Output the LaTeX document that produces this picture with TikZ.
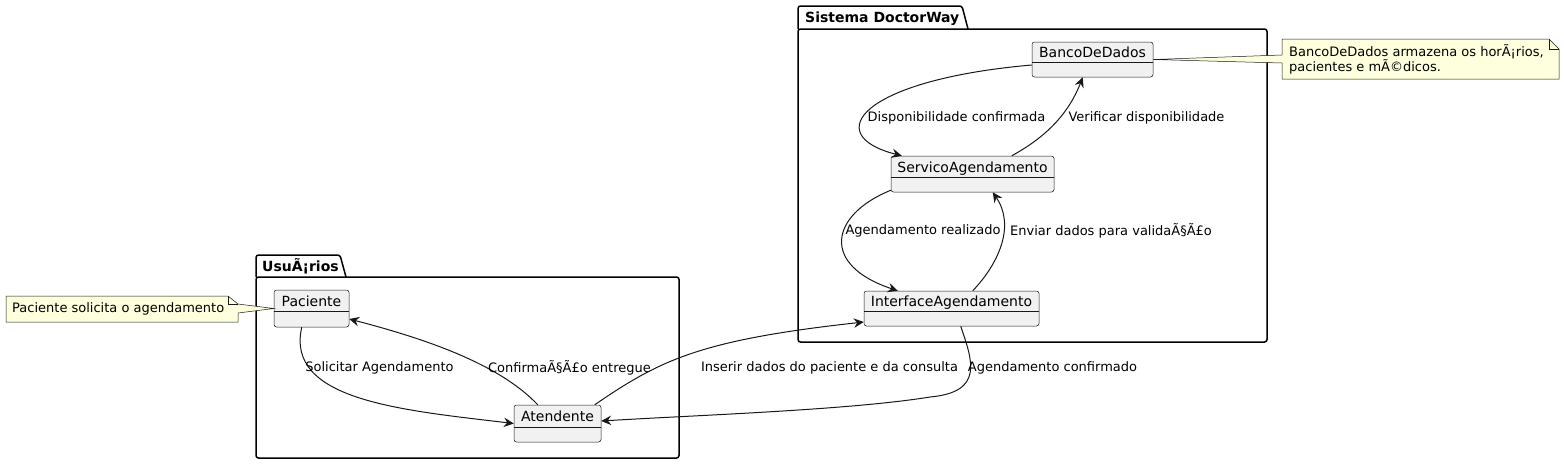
\documentclass[tikz,border=0pt]{standalone}
\usepackage{fontspec}
\setmainfont{DejaVu Sans}
\usetikzlibrary{arrows.meta,fit,calc}
\definecolor{c18}{HTML}{181818}
\definecolor{boxfill}{HTML}{F1F1F1}
\definecolor{notefill}{HTML}{FEFFDD}
\tikzset{
  cls/.style={draw=c18, fill=boxfill, line width=0.5pt, rounded corners=2.5pt, inner sep=0pt},
  clsline/.style={draw=c18, line width=0.5pt},
  clstext/.style={font=\fontsize{14}{16}\selectfont, inner sep=0pt, anchor=base},
  lbl/.style={font=\fontsize{13}{15}\selectfont, inner sep=0pt},
  arr/.style={draw=c18, line width=1pt, -{Stealth[length=10pt,width=9.5pt,inset=3.5pt]}},
  pkg/.style={draw=black, line width=1.5pt, rounded corners=2.5pt},
  pkgtitle/.style={font=\bfseries\fontsize{14}{16}\selectfont, inner sep=0pt, anchor=base west},
  notebox/.style={draw=c18, fill=notefill, line width=0.5pt},
  notetext/.style={font=\fontsize{13}{15.5}\selectfont, inner sep=0pt, align=left, anchor=west},
}
\begin{document}
\begin{tikzpicture}[x=1pt,y=-1pt]
\useasboundingbox (0,0) rectangle (1564,464);

% packages
\draw[pkg] (256,277) -- (256,255) -- (340,255) -- (346,277);
\draw[pkg] (256,277) rectangle (679,458);
\node[pkgtitle] (pkgU) at (262,271) {UsuÃ¡rios};
\draw[pkg] (798,29) -- (798,6) -- (962,6) -- (968,29);
\draw[pkg] (798,29) rectangle (1267,342);
\node[pkgtitle] (pkgS) at (805,22) {Sistema DoctorWay};

% classes
\node[cls, fit={(274,290)(349,327)}] (pac) {};
\draw[clsline] (pac.west |- 0,311) -- (pac.east |- 0,311);
\node[clstext] (pac-t) at (311.5,306) {Paciente};

\node[cls, fit={(514,405)(601,442)}] (ate) {};
\draw[clsline] (ate.west |- 0,427) -- (ate.east |- 0,427);
\node[clstext] (ate-t) at (557.5,421) {Atendente};

\node[cls, fit={(1032,42)(1153,77)}] (bdd) {};
\draw[clsline] (bdd.west |- 0,62) -- (bdd.east |- 0,62);
\node[clstext] (bdd-t) at (1092.5,57) {BancoDeDados};

\node[cls, fit={(891,156)(1054,192)}] (svc) {};
\draw[clsline] (svc.west |- 0,177) -- (svc.east |- 0,177);
\node[clstext] (svc-t) at (972.5,172) {ServicoAgendamento};

\node[cls, fit={(864,291)(1039,326)}] (itf) {};
\draw[clsline] (itf.west |- 0,311) -- (itf.east |- 0,311);
\node[clstext] (itf-t) at (951.5,306) {InterfaceAgendamento};

% notes
\draw[notebox] (6,296) -- (228,296) -- (238,304) -- (pac.west) -- (238,313) -- (238,322) -- (6,322) -- cycle;
\draw[notebox, fill=none] (228,296) -- (228,304) -- (238,304);
\node[notetext] (n1) at (12,309) {Paciente solicita o agendamento};

\draw[notebox] (1282,39) -- (1549,39) -- (1559,49) -- (1559,79) -- (1282,79) -- (1282,63) -- (bdd.east) -- (1282,55) -- cycle;
\draw[notebox, fill=none] (1549,39) -- (1549,49) -- (1559,49);
\node[notetext] (n2) at (1289,59.5) {BancoDeDados armazena os horÃ¡rios,\\pacientes e mÃ©dicos.};

% connectors
\draw[arr] ([xshift=28pt]pac.south west) .. controls (285,400) and (400,410) .. ([yshift=0pt]ate.west);
\node[lbl] (l1) at (379.5,368) {Solicitar Agendamento};

\draw[arr] ([xshift=24pt]ate.north west) .. controls (500,365) and (430,340) .. ([yshift=-10.5pt]pac.east);
\node[lbl] (l2) at (569.5,368) {ConfirmaÃ§Ã£o entregue};

\draw[arr] ([xshift=81pt]ate.north west) .. controls (660,360) and (700,340) .. ([yshift=-13.5pt]itf.west);
\node[lbl] (l3) at (829.5,368) {Inserir dados do paciente e da consulta};

\draw[arr] ([xshift=97pt]itf.south west) .. controls (972,360) and (985,392) .. (930,397) .. controls (850,410) and (700,415) .. ([yshift=2.5pt]ate.east);
\node[lbl] (l4) at (1052.5,368) {Agendamento confirmado};

\draw[arr] ([yshift=-5.5pt]bdd.west) .. controls (860,80) and (820,135) .. ([xshift=11pt]svc.north west);
\node[lbl] (l5) at (956.5,118) {Disponibilidade confirmada};

\draw[arr] ([xshift=121pt]svc.north west) .. controls (1050,135) and (1070,110) .. ([xshift=51pt]bdd.south west);
\node[lbl] (l6) at (1146.5,118) {Verificar disponibilidade};

\draw[arr] ([yshift=2pt]svc.south west) .. controls (830,215) and (820,265) .. ([xshift=34pt]itf.north west);
\node[lbl] (l7) at (923,231) {Agendamento realizado};

\draw[arr] ([xshift=109pt]itf.north west) .. controls (1000,262) and (1015,225) .. ([xshift=102pt]svc.south west);
\node[lbl] (l8) at (1111,231) {Enviar dados para validaÃ§Ã£o};
\end{tikzpicture}
\end{document}
